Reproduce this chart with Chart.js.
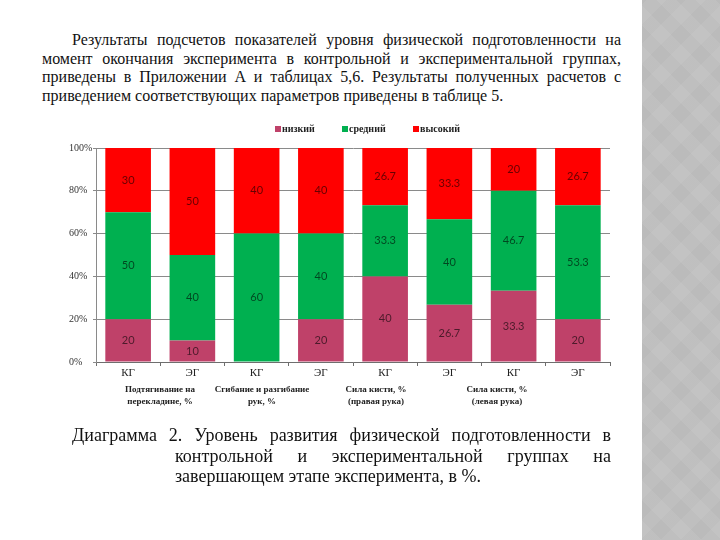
<!DOCTYPE html>
<html lang="ru">
<head>
<meta charset="utf-8">
<script src="https://cdn.jsdelivr.net/npm/chart.js@4/dist/chart.umd.min.js"></script>
<style>
  html, body { margin:0; padding:0; background:#fff; }
  body { width:720px; height:540px; position:relative; overflow:hidden; font-family:"Liberation Serif", "Times New Roman", serif; color:#111; }
  #strip { position:absolute; left:642px; top:0; width:78px; height:540px; background:#c1c1c1;
    background-image:
      repeating-linear-gradient(45deg, rgba(255,255,255,0.025) 0 14px, rgba(0,0,0,0.015) 14px 28px),
      repeating-linear-gradient(-45deg, rgba(255,255,255,0.025) 0 14px, rgba(0,0,0,0.015) 14px 28px); }
  #para { position:absolute; left:42px; top:31px; width:579px; font-family:"Liberation Serif", serif; font-size:16px; line-height:18.6px; text-align:justify; text-indent:30px; }
  #caption { position:absolute; left:72px; top:425px; width:436px; padding-left:103px; text-indent:-103px; font-family:"Liberation Serif", serif; font-size:18px; line-height:20.5px; text-align:justify; }
  #chartWrap { position:absolute; left:0; top:0; width:720px; height:540px; }
  .leg { position:absolute; top:122px; font-size:10px; font-weight:bold; line-height:14px; color:#222; white-space:nowrap; }
  .leg i { display:inline-block; width:6px; height:6px; margin-right:1px; }
  .grp { position:absolute; top:383px; width:140px; margin-left:-70px; text-align:center; font-size:9px; font-weight:bold; line-height:12px; color:#222; }
</style>
</head>
<body>
<div id="strip"></div>
<div id="para">Результаты подсчетов показателей уровня физической подготовленности на момент окончания эксперимента в контрольной и экспериментальной группах, приведены в Приложении А и таблицах 5,6. Результаты полученных расчетов с приведением соответствующих параметров приведены в таблице 5.</div>
<div id="chartWrap"><canvas id="c" width="720" height="540"></canvas></div>
<div id="legend"></div>
<div id="groups"></div>
<div id="caption">Диаграмма 2. Уровень развития физической подготовленности в контрольной и экспериментальной группах на завершающем этапе эксперимента, в %.</div>
<script>
const categories = ['КГ','ЭГ','КГ','ЭГ','КГ','ЭГ','КГ','ЭГ'];
const seriesNames = ['низкий','средний','высокий'];
const lowValues  = [20, 10, 0, 20, 40, 26.7, 33.3, 20];
const midValues  = [50, 40, 60, 40, 33.3, 40, 46.7, 53.3];
const highValues = [30, 50, 40, 40, 26.7, 33.3, 20, 26.7];
const yTicks = [0, 20, 40, 60, 80, 100];
const groupLabels = [
  ['Подтягивание на', 'перекладине, %'],
  ['Сгибание и разгибание', 'рук, %'],
  ['Сила кисти, %', '(правая рука)'],
  ['Сила кисти, %', '(левая рука)']
];

const colors = ['#bf4169', '#00b050', '#ff0000'];

const legendPos = [275, 342, 413];
const legendEl = document.getElementById('legend');
seriesNames.forEach((n, i) => {
  const d = document.createElement('div');
  d.className = 'leg';
  d.style.left = legendPos[i] + 'px';
  d.innerHTML = '<i style="background:' + colors[i] + '"></i>' + n;
  legendEl.appendChild(d);
});
const groupX = [160, 262, 376, 497];
const groupsEl = document.getElementById('groups');
groupLabels.forEach((g, i) => {
  const d = document.createElement('div');
  d.className = 'grp';
  d.style.left = groupX[i] + 'px';
  d.innerHTML = g.join('<br>');
  groupsEl.appendChild(d);
});

const segLabels = {
  id: 'segLabels',
  afterDatasetsDraw(chart) {
    const ctx = chart.ctx;
    ctx.save();
    ctx.font = '11px Lato, "Open Sans", sans-serif';
    ctx.textAlign = 'center';
    ctx.textBaseline = 'middle';
    ctx.fillStyle = 'rgba(0,0,0,0.6)';
    chart.data.datasets.forEach((ds, i) => {
      const meta = chart.getDatasetMeta(i);
      meta.data.forEach((bar, j) => {
        const v = ds.data[j];
        if (!v) return;
        const p = bar.getProps(['x', 'y', 'base'], true);
        ctx.fillText(String(v), p.x, (p.y + p.base) / 2);
      });
    });
    ctx.restore();
  }
};

Chart.defaults.font.family = '"Liberation Serif", serif';
new Chart(document.getElementById('c'), {
  type: 'bar',
  data: {
    labels: categories,
    datasets: [
      { label: seriesNames[0], data: lowValues,  backgroundColor: colors[0] },
      { label: seriesNames[1], data: midValues,  backgroundColor: colors[1] },
      { label: seriesNames[2], data: highValues, backgroundColor: colors[2] }
    ]
  },
  options: {
    responsive: false,
    animation: false,
    events: [],
    layout: { padding: { left: 69, right: 110, top: 148, bottom: 158 } },
    plugins: { legend: { display: false }, tooltip: { enabled: false } },
    datasets: { bar: { categoryPercentage: 0.71, barPercentage: 1.0 } },
    scales: {
      x: {
        stacked: true,
        afterFit: s => { s.height = 20; },
        border: { color: '#6e6e6e', width: 1 },
        grid: { display: true, drawOnChartArea: false, drawTicks: true, tickLength: 4, color: '#6e6e6e', offset: true },
        ticks: { color: '#222', font: { size: 11 }, padding: 1, maxRotation: 0 }
      },
      y: {
        stacked: true,
        min: 0, max: 100,
        afterFit: s => { s.width = 27; },
        afterBuildTicks: s => { s.ticks = yTicks.map(v => ({ value: v })); },
        border: { color: '#8a8a8a', width: 1 },
        grid: { color: '#8a8a8a', lineWidth: 1, tickLength: 3, drawTicks: true },
        ticks: { crossAlign: 'far', color: '#333', font: { size: 10 }, callback: v => v + '%' }
      }
    }
  },
  plugins: [segLabels]
});
</script>
</body>
</html>
